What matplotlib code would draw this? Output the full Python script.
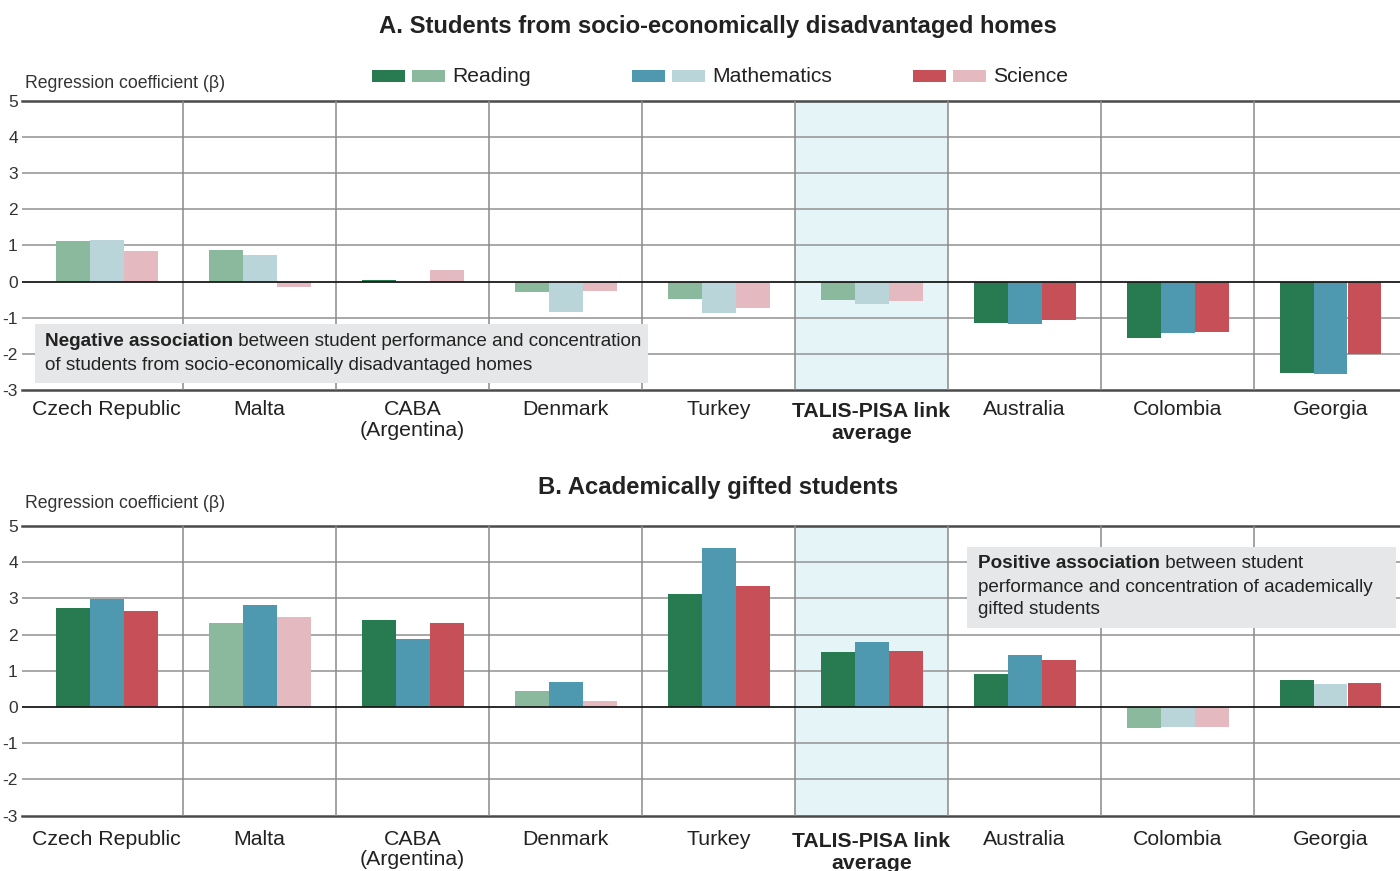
import matplotlib
matplotlib.use("Agg")
import matplotlib.pyplot as plt
from matplotlib.patches import Rectangle
from matplotlib.text import Annotation
import numpy as np

plt.rcParams['font.family'] = ['Liberation Sans', 'DejaVu Sans']

categories = ["Czech Republic", "Malta", "CABA\n(Argentina)", "Denmark", "Turkey",
              "TALIS-PISA link\naverage", "Australia", "Colombia", "Georgia"]

# Panel A: socio-economically disadvantaged homes
a_reading = [1.13, 0.86, 0.03, -0.29, -0.49, -0.52, -1.15, -1.57, -2.53]
a_math    = [1.16, 0.73, 0.00, -0.85, -0.87, -0.63, -1.18, -1.43, -2.56]
a_science = [0.85, -0.14, 0.33, -0.27, -0.74, -0.54, -1.07, -1.40, -2.01]
a_reading_sig = [False, False, True, False, False, False, True, True, True]
a_math_sig    = [False, False, False, False, False, False, True, True, True]
a_science_sig = [False, False, False, False, False, False, True, True, True]

# Panel B: academically gifted students
b_reading = [2.73, 2.32, 2.40, 0.44, 3.12, 1.52, 0.91, -0.58, 0.74]
b_math    = [2.99, 2.82, 1.88, 0.69, 4.39, 1.80, 1.44, -0.54, 0.63]
b_science = [2.65, 2.49, 2.32, 0.17, 3.34, 1.55, 1.30, -0.54, 0.66]
b_reading_sig = [True, False, True, False, True, True, True, False, True]
b_math_sig    = [True, True, True, True, True, True, True, False, False]
b_science_sig = [True, False, True, False, True, True, True, False, True]

yticks = [-3, -2, -1, 0, 1, 2, 3, 4, 5]
subjects = ["Reading", "Mathematics", "Science"]
dark = ["#287A50", "#4E98B0", "#C74F57"]
light = ["#8AB99E", "#BAD5DA", "#E4B9BF"]

W, H = 1400, 871
fig = plt.figure(figsize=(14, 8.71), dpi=100)

def fx(p):
    return p / W

def fy(p):
    return 1 - p / H

TXT = "#222222"
cat_w = 153.0
x_center0 = 106.5
ax_left_px = 22


def draw_panel(top_px, bot_px, series, sigs, label_off):
    ax = fig.add_axes([fx(ax_left_px), fy(bot_px), fx(W - ax_left_px), (bot_px - top_px) / H])
    x = np.arange(len(categories))
    xl = (ax_left_px - x_center0) / cat_w
    xr = (W - x_center0) / cat_w
    ax.set_xlim(xl, xr)
    ax.set_ylim(-3, 5)
    ax.axvspan(4.5, 5.5, color="#E4F4F7", zorder=0, lw=0)
    for yv in yticks:
        if yv == 0:
            ax.axhline(yv, color="#1a1a1a", lw=1.3, zorder=4)
        elif yv in (-3, 5):
            ax.axhline(yv, color="#4a4a4a", lw=1.8, zorder=1, clip_on=False)
        else:
            ax.axhline(yv, color="#9a9a9a", lw=1.2, zorder=1)
    for b in np.arange(0.5, len(categories) - 0.5, 1.0):
        ax.axvline(b, color="#8a8a8a", lw=1.1, zorder=1)
    bw = 34 / cat_w
    for j, (vals, sg) in enumerate(zip(series, sigs)):
        cols = [dark[j] if s else light[j] for s in sg]
        ax.bar(x + (j - 1) * bw, vals, width=bw, color=cols, zorder=3, lw=0)
    for s in ax.spines.values():
        s.set_visible(False)
    ax.set_xticks([])
    ax.set_yticks(yticks)
    ax.set_yticklabels([str(v) for v in yticks], fontsize=12.5, color="#333333")
    ax.tick_params(axis="y", length=0, pad=3)
    for i, c in enumerate(categories):
        bold = c.startswith("TALIS")
        off = label_off - (1.5 if bold else 0)
        ax.annotate(c, xy=(i, -3), xycoords="data", xytext=(0, off), textcoords="offset points",
                    ha="center", va="top", fontsize=15.3, color=TXT,
                    linespacing=1.2 if bold else 1.1,
                    fontweight="bold" if bold else "normal", annotation_clip=False)
    return ax


axA = draw_panel(100.7, 390, [a_reading, a_math, a_science],
                 [a_reading_sig, a_math_sig, a_science_sig], -7.5)
axB = draw_panel(526, 815.7, [b_reading, b_math, b_science],
                 [b_reading_sig, b_math_sig, b_science_sig], -10)

# Titles
fig.text(fx(718), fy(26), "A. Students from socio-economically disadvantaged homes",
         ha="center", va="center", fontsize=17.2, fontweight="bold", color=TXT)
fig.text(fx(718), fy(487), "B. Academically gifted students",
         ha="center", va="center", fontsize=17.2, fontweight="bold", color=TXT)

# Y labels
for yy in (82, 502):
    fig.text(fx(25), fy(yy + 1), "Regression coefficient (β)", ha="left", va="center",
             fontsize=12.7, color="#333333")

# Legend
leg_x = [(372, 412, 452), (632, 672, 712), (913, 953, 993)]
for k, (x1, x2, xt) in enumerate(leg_x):
    fig.patches.append(Rectangle((fx(x1), fy(82)), fx(33), 12 / H, transform=fig.transFigure,
                                 facecolor=dark[k], lw=0))
    fig.patches.append(Rectangle((fx(x2), fy(82)), fx(33), 12 / H, transform=fig.transFigure,
                                 facecolor=light[k], lw=0))
    fig.text(fx(xt), fy(76), subjects[k], ha="left", va="center", fontsize=15.2, color=TXT)

# Annotation boxes
fig.patches.append(Rectangle((fx(35), fy(383)), fx(613), 59 / H, transform=fig.transFigure,
                             facecolor="#E6E7E8", lw=0, zorder=5))
fig.patches.append(Rectangle((fx(967), fy(628)), fx(429), 81 / H, transform=fig.transFigure,
                             facecolor="#E6E7E8", lw=0, zorder=5))

AFS = 13.6


def mixed(xp, yp, bold, rest):
    t1 = fig.text(fx(xp), fy(yp), bold, ha="left", va="center", fontsize=AFS,
                  fontweight="bold", color=TXT, zorder=6)
    ann = Annotation(rest, xy=(1, 0), xycoords=t1, xytext=(0, 0), textcoords="offset points",
                     ha="left", va="bottom", fontsize=AFS, color=TXT,
                     annotation_clip=False)
    ann.set_zorder(6)
    fig.add_artist(ann)
    return t1, ann


mixed(45, 342, "Negative association", " between student performance and concentration")
fig.text(fx(45), fy(365), "of students from socio-economically disadvantaged homes",
         ha="left", va="center", fontsize=AFS, color=TXT, zorder=6)

mixed(978, 564, "Positive association", " between student")
fig.text(fx(978), fy(587), "performance and concentration of academically",
         ha="left", va="center", fontsize=AFS, color=TXT, zorder=6)
fig.text(fx(978), fy(609), "gifted students",
         ha="left", va="center", fontsize=AFS, color=TXT, zorder=6)

fig.savefig("out.png", dpi=100)
